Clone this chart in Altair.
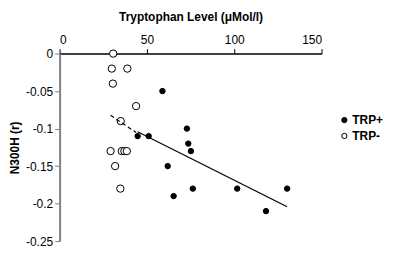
import altair as alt
import pandas as pd

groups = ["TRP+", "TRP-"]
trp_plus_x = [58.9, 44.7, 51.0, 72.9, 73.7, 75.2, 61.9, 76.3, 65.3, 101.7, 130.3, 118.2]
trp_plus_y = [-0.05, -0.11, -0.11, -0.10, -0.12, -0.13, -0.15, -0.18, -0.19, -0.18, -0.18, -0.21]
trp_minus_x = [30.7, 29.9, 38.8, 30.5, 43.8, 35.0, 29.2, 35.6, 37.1, 38.5, 31.8, 34.8]
trp_minus_y = [0.0, -0.02, -0.02, -0.04, -0.07, -0.09, -0.13, -0.13, -0.13, -0.13, -0.15, -0.18]
x_ticks = [0, 50, 100, 150]
y_ticks = [0, -0.05, -0.10, -0.15, -0.20, -0.25]

df = pd.DataFrame({
    "x": trp_plus_x + trp_minus_x,
    "y": trp_plus_y + trp_minus_y,
    "group": [groups[0]] * len(trp_plus_x) + [groups[1]] * len(trp_minus_x),
})

FONT = "Liberation Sans"

x_axis = alt.Axis(
    orient="top", values=x_ticks, grid=False, labelOverlap=False,
    domainColor="black", domainWidth=1.5, tickColor="black", tickSize=5,
    labelFont=FONT, labelFontSize=12, labelColor="black", labelPadding=2,
    titleFont=FONT, titleFontSize=12, titleFontWeight="bold", titleColor="black",
    titlePadding=10,
)
y_axis = alt.Axis(
    orient="left", values=y_ticks, grid=False, labelOverlap=False,
    domainColor="#808080", domainWidth=2, tickColor="#808080", tickSize=5,
    labelFont=FONT, labelFontSize=12, labelColor="black", labelPadding=2,
    labelExpr="datum.value == 0 ? '0' : replace(format(datum.value, '.2~f'), '\u2212', '-')",
    titleFont=FONT, titleFontSize=12, titleFontWeight="bold", titleColor="black",
    titlePadding=4,
)


def x_enc():
    return alt.X("x:Q", scale=alt.Scale(domain=[0, 150], nice=False),
                 title="Tryptophan Level (μMol/l)", axis=x_axis)


def y_enc():
    return alt.Y("y:Q", scale=alt.Scale(domain=[-0.25, 0], nice=False),
                 title="N300H (r)", axis=y_axis)


points = alt.Chart(df).mark_circle(stroke="black", strokeWidth=1, opacity=1).encode(
    x=x_enc(),
    y=y_enc(),
    fill=alt.Fill(
        "group:N",
        scale=alt.Scale(domain=groups, range=["black", "white"]),
        legend=alt.Legend(
            title=None, orient="none", legendX=281, legendY=61,
            symbolType="circle", symbolSize=28, symbolStrokeColor="black",
            symbolStrokeWidth=1, symbolOpacity=1,
            labelFont=FONT, labelFontSize=12, labelFontWeight="bold",
            labelColor="black", labelOffset=2, rowPadding=4,
        ),
    ),
    size=alt.condition(alt.datum.group == groups[0], alt.value(30), alt.value(55)),
)

line_plus = alt.Chart(df).transform_filter(
    alt.datum.group == groups[0]
).transform_regression("x", "y").mark_line(
    color="black", strokeWidth=1.2
).encode(x=x_enc(), y=y_enc())

line_minus = alt.Chart(df).transform_filter(
    alt.datum.group == groups[1]
).transform_regression("x", "y").mark_line(
    color="black", strokeWidth=1.2, strokeDash=[4, 3]
).encode(x=x_enc(), y=y_enc())

chart = alt.layer(points, line_plus, line_minus).properties(
    width=264,
    height=189,
    autosize=alt.AutoSizeParams(type="none"),
    padding={"left": 52, "top": 45, "right": 68, "bottom": 6},
).configure_view(stroke=None)

chart.save("out.html", embed_options={"renderer": "svg", "actions": False})
